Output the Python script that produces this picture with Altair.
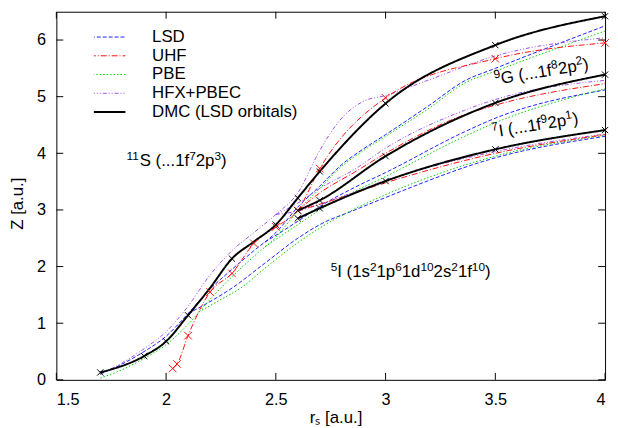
import math
import altair as alt
import pandas as pd

# ---------------- data ----------------
methods = ["LSD", "UHF", "PBE", "HFX+PBEC", "DMC (LSD orbitals)"]
colors = ["#2020ff", "#ff1010", "#00d000", "#a050f0", "#000000"]
dashes = [[4, 2], [6, 2, 1, 2], [1.5, 2], [4, 2, 1, 2, 1, 2], [1, 0]]
widths = {"LSD": 1, "UHF": 1, "PBE": 1, "HFX+PBEC": 1, "DMC (LSD orbitals)": 2}

# LSD
lsd_a_rs = [1.7, 1.8, 1.9, 2.0, 2.1, 2.2, 2.3, 2.4, 2.5, 2.6, 2.7, 2.8, 2.9, 3.0, 3.2, 3.36, 3.5, 4.0]
lsd_a_z = [0.10, 0.28, 0.50, 0.77, 1.17, 1.60, 1.95, 2.28, 2.60, 3.05, 3.42, 3.80, 4.08, 4.33, 4.85, 5.28, 5.50, 6.25]
lsd_b_rs = [2.45, 2.6, 2.7, 2.86, 3.0, 3.36, 3.5, 4.0]
lsd_b_z = [2.43, 2.80, 3.06, 3.40, 3.66, 4.38, 4.62, 5.12]
lsd_c_rs = [2.1, 2.2, 2.3, 2.45, 2.6, 2.7, 2.86, 3.0, 3.5, 4.0]
lsd_c_z = [1.17, 1.38, 1.62, 2.06, 2.50, 2.74, 3.00, 3.22, 3.92, 4.30]

# UHF
uhf_a_rs = [2.03, 2.05, 2.1, 2.2, 2.3, 2.4, 2.5, 2.6, 2.7, 3.0, 3.5, 4.0]
uhf_a_z = [0.20, 0.28, 0.78, 1.55, 1.88, 2.41, 2.70, 2.99, 3.73, 4.98, 5.67, 5.95]
uhf_b_rs = [2.6, 2.7, 2.86, 3.0, 3.36, 3.5, 4.0]
uhf_b_z = [2.99, 3.30, 3.67, 4.00, 4.68, 4.85, 5.23]
uhf_c_rs = [2.6, 2.7, 3.0, 3.5, 4.0]
uhf_c_z = [2.99, 3.10, 3.48, 4.00, 4.33]

# PBE
pbe_a_rs = [1.7, 1.8, 1.9, 2.0, 2.1, 2.2, 2.3, 2.4, 2.5, 2.6, 2.7, 2.8, 2.9, 3.0, 3.2, 3.36, 3.5, 4.0]
pbe_a_z = [0.03, 0.18, 0.38, 0.62, 0.98, 1.42, 1.82, 2.18, 2.52, 2.98, 3.38, 3.77, 4.05, 4.30, 4.80, 5.24, 5.45, 6.16]
pbe_b_rs = [2.45, 2.6, 2.7, 2.86, 3.0, 3.36, 3.5, 4.0]
pbe_b_z = [2.35, 2.74, 3.00, 3.33, 3.59, 4.30, 4.54, 5.14]
pbe_c_rs = [2.15, 2.25, 2.34, 2.45, 2.6, 2.7, 2.86, 3.0, 3.5, 4.0]
pbe_c_z = [1.20, 1.42, 1.62, 1.97, 2.42, 2.68, 3.02, 3.27, 3.95, 4.32]

# HFX+PBEC
hfx_a_rs = [1.7, 1.8, 1.9, 2.0, 2.1, 2.2, 2.3, 2.4, 2.5, 2.6, 2.7, 2.8, 2.9, 3.0, 3.2, 3.5, 4.0]
hfx_a_z = [0.10, 0.30, 0.55, 0.85, 1.30, 1.85, 2.28, 2.60, 2.92, 3.30, 4.05, 4.62, 4.92, 5.02, 5.30, 5.72, 6.04]
hfx_b_rs = [2.5, 2.6, 2.7, 2.86, 3.0, 3.36, 3.5, 4.0]
hfx_b_z = [2.92, 3.12, 3.38, 3.72, 4.09, 4.76, 4.95, 5.29]
hfx_c_rs = [2.5, 2.6, 2.7, 2.86, 3.0, 3.5, 4.0]
hfx_c_z = [2.92, 2.98, 3.10, 3.32, 3.52, 4.03, 4.34]

# DMC (LSD orbitals)
dmc_a_rs = [1.7, 1.9, 2.0, 2.1, 2.2, 2.3, 2.4, 2.5, 2.6, 2.7, 3.0, 3.5, 4.0]
dmc_a_z = [0.13, 0.42, 0.68, 1.14, 1.62, 2.14, 2.44, 2.74, 3.21, 3.68, 4.88, 5.91, 6.42]
dmc_a_mark = [1, 1, 1, 1, 0, 1, 0, 1, 1, 1, 1, 1, 1]
dmc_b_rs = [2.6, 2.7, 3.0, 3.5, 4.0]
dmc_b_z = [2.99, 3.17, 3.95, 4.89, 5.39]
dmc_c_rs = [2.6, 2.7, 3.0, 3.5, 4.0]
dmc_c_z = [2.85, 3.03, 3.51, 4.07, 4.41]

x_ticks = [1.5, 2, 2.5, 3, 3.5, 4]
y_ticks = [0, 1, 2, 3, 4, 5, 6]

# annotation pieces: (text, is_superscript); anchor = left end of baseline
ann_s11 = [("11", True), ("S (...1f", False), ("7", True), ("2p", False), ("3", True), (")", False)]
ann_i5 = [("5", True), ("I (1s", False), ("2", True), ("1p", False), ("6", True), ("1d", False),
          ("10", True), ("2s", False), ("2", True), ("1f", False), ("10", True), (")", False)]
ann_g9 = [("9", True), ("G (...1f", False), ("8", True), ("2p", False), ("2", True), (")", False)]
ann_i7 = [("7", True), ("I (...1f", False), ("9", True), ("2p", False), ("1", True), (")", False)]
ann_list = [ann_s11, ann_i5, ann_g9, ann_i7]
ann_rs = [1.82, 2.75, 3.50, 3.49]
ann_z = [3.77, 1.81, 5.21, 4.28]
ann_tilt = [0, 0, 9.3, 9.2]   # degrees, counter-clockwise

# ---------------- tables ----------------
segments = [
    ("LSD", "lsd_a", lsd_a_rs, lsd_a_z, None),
    ("LSD", "lsd_b", lsd_b_rs, lsd_b_z, None),
    ("LSD", "lsd_c", lsd_c_rs, lsd_c_z, None),
    ("PBE", "pbe_a", pbe_a_rs, pbe_a_z, None),
    ("PBE", "pbe_b", pbe_b_rs, pbe_b_z, None),
    ("PBE", "pbe_c", pbe_c_rs, pbe_c_z, None),
    ("HFX+PBEC", "hfx_a", hfx_a_rs, hfx_a_z, None),
    ("HFX+PBEC", "hfx_b", hfx_b_rs, hfx_b_z, None),
    ("HFX+PBEC", "hfx_c", hfx_c_rs, hfx_c_z, None),
    ("UHF", "uhf_a", uhf_a_rs, uhf_a_z, [1] * len(uhf_a_rs)),
    ("UHF", "uhf_b", uhf_b_rs, uhf_b_z, None),
    ("UHF", "uhf_c", uhf_c_rs, uhf_c_z, None),
    ("DMC (LSD orbitals)", "dmc_a", dmc_a_rs, dmc_a_z, dmc_a_mark),
    ("DMC (LSD orbitals)", "dmc_b", dmc_b_rs, dmc_b_z, [1] * len(dmc_b_rs)),
    ("DMC (LSD orbitals)", "dmc_c", dmc_c_rs, dmc_c_z, [1] * len(dmc_c_rs)),
]
rows = []
for m, s, xs, zs, mk in segments:
    for i, (xv, zv) in enumerate(zip(xs, zs)):
        rows.append({"method": m, "seg": s, "rs": xv, "Z": zv, "sw": widths[m],
                     "mark": (mk[i] if mk else 0)})
df = pd.DataFrame(rows)

FONT = "Liberation Sans"
W, H = 556, 373
XMIN, XMAX, YMIN, YMAX = 1.5, 4.0, 0.0, 6.5
PX_X = W / (XMAX - XMIN)
PX_Y = H / (YMAX - YMIN)

# Liberation Sans (Arial-metric) advance widths, per 1000 em
ADV = {c: 556 for c in "0123456789"}
ADV.update({" ": 278, "(": 333, ")": 333, ".": 278, "S": 667, "G": 778, "I": 278,
            "f": 278, "p": 556, "s": 500, "d": 556})
BASE_FS, SUP_FS, SUP_RAISE = 17, 12, 6.5

ann_rows = []
for pieces, a_rs, a_z, tilt in zip(ann_list, ann_rs, ann_z, ann_tilt):
    th = math.radians(tilt)
    ux, uy = math.cos(th), -math.sin(th)        # along baseline (screen)
    vx, vy = -math.sin(th), -math.cos(th)       # upwards (screen)
    d = 0.0
    for txt, sup in pieces:
        fs = SUP_FS if sup else BASE_FS
        r = SUP_RAISE if sup else 0.0
        px = d * ux + r * vx
        py = d * uy + r * vy
        ann_rows.append({"rs": a_rs + px / PX_X, "Z": a_z - py / PX_Y, "t": txt,
                         "fs": fs, "ang": (360 - tilt) % 360})
        d += sum(ADV.get(c, 556) for c in txt) * fs / 1000.0
ann_df = pd.DataFrame(ann_rows)

X = alt.X("rs:Q", scale=alt.Scale(domain=[XMIN, XMAX], nice=False, zero=False),
          axis=alt.Axis(values=x_ticks, format="~g", ticks=False, domain=False, grid=False,
                        labelPadding=12, labelFontSize=16.5, title="rₛ [a.u.]",
                        titleFontSize=17, titleFontWeight="normal",
                        titleX=283, titleY=43, titleBaseline="alphabetic"))
Y = alt.Y("Z:Q", scale=alt.Scale(domain=[YMIN, YMAX], nice=False, zero=False),
          axis=alt.Axis(values=y_ticks, ticks=False, domain=False, grid=False,
                        labelPadding=11, labelFontSize=16.5, title="Z [a.u.]",
                        titleFontSize=17, titleFontWeight="normal",
                        titleX=-39, titleY=194, titleAngle=-90,
                        titleBaseline="middle", titleAlign="center"))

legend = alt.Legend(
    title=None,
    symbolStrokeWidth={"expr": "datum.value === 'DMC (LSD orbitals)' ? 2 : 1"},
)

lines = alt.Chart(df).mark_line(interpolate="monotone").encode(
    x=X, y=Y,
    color=alt.Color("method:N", scale=alt.Scale(domain=methods, range=colors), legend=legend),
    strokeDash=alt.StrokeDash("method:N", scale=alt.Scale(domain=methods, range=dashes), legend=legend),
    strokeWidth=alt.StrokeWidth("sw:Q", scale=None),
    detail="seg:N",
    order="rs:Q",
)

XPATH = "M-1,-1L1,1M-1,1L1,-1"
dmc_pts = alt.Chart(df).transform_filter(
    (alt.datum.mark == 1) & (alt.datum.method == "DMC (LSD orbitals)")
).mark_point(shape=XPATH, filled=False, color="black", size=40, strokeWidth=1, opacity=1).encode(x=X, y=Y)
uhf_pts = alt.Chart(df).transform_filter(
    (alt.datum.mark == 1) & (alt.datum.method == "UHF")
).mark_point(shape=XPATH, filled=False, color="#ff1010", size=60, strokeWidth=1, opacity=1).encode(x=X, y=Y)

ann = alt.Chart(ann_df).mark_text(font=FONT, align="left", baseline="alphabetic", color="black").encode(
    x=X, y=Y, text="t:N",
    size=alt.Size("fs:Q", scale=None),
    angle=alt.Angle("ang:Q", scale=None),
)

xt = pd.DataFrame({"rs": x_ticks})
yt = pd.DataFrame({"Z": y_ticks})
tick_bottom = alt.Chart(xt).mark_rule(color="black", strokeWidth=1).encode(
    x=X, y=alt.value(H), y2=alt.value(H - 7))
tick_top = alt.Chart(xt).mark_rule(color="black", strokeWidth=1).encode(
    x=X, y=alt.value(0), y2=alt.value(7))
tick_left = alt.Chart(yt).mark_rule(color="black", strokeWidth=1).encode(
    y=Y, x=alt.value(0), x2=alt.value(7))
tick_right = alt.Chart(yt).mark_rule(color="black", strokeWidth=1).encode(
    y=Y, x=alt.value(W), x2=alt.value(W - 7))

chart = alt.layer(
    tick_bottom, tick_top, tick_left, tick_right,
    lines, uhf_pts, dmc_pts, ann,
).properties(
    width=W, height=H,
    autosize=alt.AutoSizeParams(type="none"),
    padding={"left": 49, "top": 1, "right": 5, "bottom": 44},
).configure_view(
    stroke="black", strokeWidth=1
).configure_axis(
    labelFont=FONT, titleFont=FONT, labelColor="black", titleColor="black"
).configure_legend(
    orient="none", legendX=38, legendY=17, symbolType="stroke", symbolSize=2209,
    clipHeight=17.3, rowPadding=0, labelFontSize=17, labelFont=FONT, labelColor="black",
    labelOffset=42, padding=0, labelLimit=400,
)

chart.save("out.html", embed_options={"renderer": "svg", "actions": False})
